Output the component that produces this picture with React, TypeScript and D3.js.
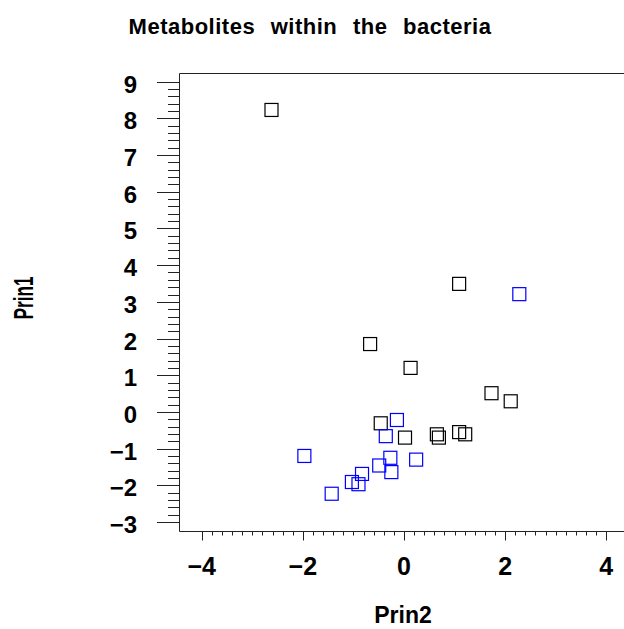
import React from 'react';
import * as d3 from 'd3';

const titleText = 'Metabolites within the bacteria';
const xLabel = 'Prin2';
const yLabel = 'Prin1';

// group 1 (black)
const prin2Black = [-2.62, 1.09, -0.67, 0.13, 1.73, 2.11, -0.46, 0.02, 0.65, 0.69, 1.09, 1.21];
const prin1Black = [8.23, 3.49, 1.85, 1.2, 0.51, 0.29, -0.31, -0.7, -0.61, -0.7, -0.55, -0.61];
// group 2 (blue)
const prin2Blue = [2.28, -0.14, -0.36, -1.97, -0.27, 0.24, -0.49, -0.25, -0.83, -1.03, -0.9, -1.43];
const prin1Blue = [3.21, -0.22, -0.66, -1.2, -1.25, -1.3, -1.46, -1.64, -1.69, -1.91, -1.97, -2.23];

const xTicks = [-4, -2, 0, 2, 4];
const yTicks = [-3, -2, -1, 0, 1, 2, 3, 4, 5, 6, 7, 8, 9];
const xDomain: [number, number] = [-4, 4];
const yDomain: [number, number] = [-3, 9];
const minorStep = 0.2;

const W = 624;
const H = 629;
const FONT = '"Liberation Sans", Arial, Helvetica, sans-serif';

const fmt = (v: number) => (v < 0 ? '\u2212' + Math.abs(v) : String(v));

export default function App() {
  const x = d3.scaleLinear().domain(xDomain).range([201.7, 606.3]);
  const y = d3.scaleLinear().domain(yDomain).range([522, 81.7]);
  const left = 179.5;
  const top = 73.5;
  const bottom = 531.5;
  const right = 629;

  const xMinor = d3.range(xDomain[0], xDomain[1] + 1e-6, minorStep)
    .map((v) => Math.round(v * 10) / 10)
    .filter((v) => !xTicks.includes(v));
  const yMinor = d3.range(yDomain[0], yDomain[1] + 1e-6, minorStep)
    .map((v) => Math.round(v * 10) / 10)
    .filter((v) => !yTicks.includes(v));

  const sq = 13;
  const black = prin2Black.map((v, i) => ({ px: v, py: prin1Black[i] }));
  const blue = prin2Blue.map((v, i) => ({ px: v, py: prin1Blue[i] }));

  return (
    <div style={{ position: 'absolute', left: 0, top: 0, width: W, height: H, overflow: 'hidden', background: '#fff' }}>
      <svg width={W} height={H} style={{ display: 'block' }} fontFamily={FONT}>
        <rect x={0} y={0} width={W} height={H} fill="#fff" />
        <text x={310} y={34} textAnchor="middle" fontSize={22} fontWeight="bold" letterSpacing={0.5} wordSpacing={9} fill="#000">
          {titleText}
        </text>

        {/* frame */}
        <path d={`M${right},${top}H${left}V${bottom}H${right}`} fill="none" stroke="#222" strokeWidth={1} />

        {/* y ticks */}
        {yTicks.map((t) => (
          <g key={'yt' + t}>
            <line x1={left - 22.5} x2={left} y1={Math.round(y(t)) + 0.5} y2={Math.round(y(t)) + 0.5} stroke="#222" />
            <text x={137} y={y(t) + 11} textAnchor="end" fontSize={24} fontWeight="bold" fill="#000">
              {fmt(t)}
            </text>
          </g>
        ))}
        {yMinor.map((t) => (
          <line key={'ym' + t} x1={left - 11.5} x2={left} y1={Math.round(y(t)) + 0.5} y2={Math.round(y(t)) + 0.5} stroke="#222" />
        ))}

        {/* x ticks */}
        {xTicks.map((t) => (
          <g key={'xt' + t}>
            <line x1={Math.round(x(t)) + 0.5} x2={Math.round(x(t)) + 0.5} y1={bottom} y2={bottom + 9} stroke="#222" />
            <text x={x(t)} y={575} textAnchor="middle" fontSize={25} fontWeight="bold" fill="#000">
              {fmt(t)}
            </text>
          </g>
        ))}
        {xMinor.map((t) => (
          <line key={'xm' + t} x1={Math.round(x(t)) + 0.5} x2={Math.round(x(t)) + 0.5} y1={bottom} y2={bottom + 4} stroke="#222" />
        ))}

        {/* axis labels */}
        <text x={403} y={623} textAnchor="middle" fontSize={23} fontWeight="bold" fill="#000">
          {xLabel}
        </text>
        <text
          transform={`translate(33.3,298) rotate(-90)`}
          textAnchor="middle"
          fontSize={28}
          fontWeight="bold"
          textLength={43}
          lengthAdjust="spacingAndGlyphs"
          fill="#000"
        >
          {yLabel}
        </text>

        {/* points */}
        {black.map((d, i) => (
          <rect key={'b' + i} x={x(d.px) - sq / 2} y={y(d.py) - sq / 2} width={sq} height={sq} fill="none" stroke="#000" strokeWidth={1.2} />
        ))}
        {blue.map((d, i) => (
          <rect key={'u' + i} x={x(d.px) - sq / 2} y={y(d.py) - sq / 2} width={sq} height={sq} fill="none" stroke="#0000ff" strokeWidth={1.2} />
        ))}
      </svg>
    </div>
  );
}
